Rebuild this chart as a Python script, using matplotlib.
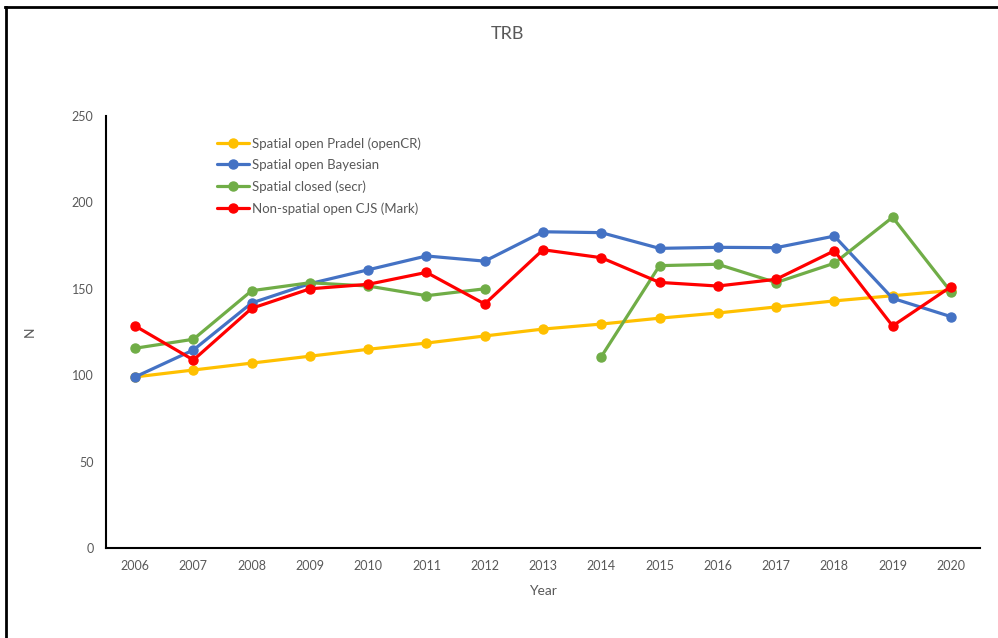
import matplotlib
matplotlib.use("Agg")
import matplotlib.pyplot as plt
import numpy as np
from matplotlib.lines import Line2D

years = [2006, 2007, 2008, 2009, 2010, 2011, 2012, 2013, 2014, 2015, 2016, 2017, 2018, 2019, 2020]
pradel = [99, 103, 107, 111, 115, 118.6, 122.7, 126.7, 129.6, 133, 136, 139.5, 143, 146, 149]
bayesian = [99, 114.6, 141.8, 153, 161, 169, 166, 183, 182.5, 173.4, 174, 173.8, 180.5, 144.5, 133.9]
secr = [115.6, 120.8, 148.9, 153.5, 151.6, 146, 150, np.nan, 110.7, 163.4, 164.2, 153.6, 164.8, 191.4, 148.3]
cjs = [128.5, 108.8, 138.7, 150, 152.6, 159.5, 141.2, 172.6, 168, 153.7, 151.6, 155.5, 172, 128.5, 151.2]

labels = ["Spatial open Pradel (openCR)", "Spatial open Bayesian",
          "Spatial closed (secr)", "Non-spatial open CJS (Mark)"]
colors = ["#FFC000", "#4472C4", "#70AD47", "#FF0000"]
yticks = [0, 50, 100, 150, 200, 250]

plt.rcParams['font.family'] = ['Lato', 'DejaVu Sans']

fig = plt.figure(figsize=(9.98, 6.38), dpi=100)
ax = fig.add_axes([106/998, 90/638, 874/998, 432/638])

for series, lab, col in zip([pradel, bayesian, secr, cjs], labels, colors):
    ax.plot(years, series, color=col, lw=2.3, marker='o', markersize=6.5, label=lab,
            solid_capstyle='round', solid_joinstyle='round')

ax.set_xlim(2005.5, 2020.5)
ax.set_ylim(0, 250)
ax.set_xticks(years)
ax.set_xticklabels([str(y) for y in years])
ax.set_yticks(yticks)
ax.tick_params(length=0, labelsize=9, colors='#595959', pad=9)
for s in ['top', 'right']:
    ax.spines[s].set_visible(False)
ax.spines['left'].set_color('#000000')
ax.spines['bottom'].set_color('#000000')
ax.spines['left'].set_linewidth(1.5)
ax.spines['bottom'].set_linewidth(1.5)

ax.set_xlabel("Year", fontsize=10, color='#595959', labelpad=9)
ax.set_ylabel("N", fontsize=10, color='#595959', labelpad=26)
fig.text(507/998, 1 - 34/638, "TRB", ha='center', va='center', fontsize=13, color='#595959')

leg = ax.legend(loc='upper left', bbox_to_anchor=(106/874, 1 - 16/432), frameon=False,
                fontsize=9.5, handlelength=2.4, handletextpad=0.2, labelspacing=0.7,
                borderaxespad=0)
for t in leg.get_texts():
    t.set_color('#595959')

# figure border (top and left visible)
fig.add_artist(Line2D([5/998, 1], [1 - 7/638, 1 - 7/638], transform=fig.transFigure, color='black', lw=2))
fig.add_artist(Line2D([6/998, 6/998], [0, 1 - 7/638], transform=fig.transFigure, color='black', lw=2))

fig.savefig("out.png", dpi=100)
